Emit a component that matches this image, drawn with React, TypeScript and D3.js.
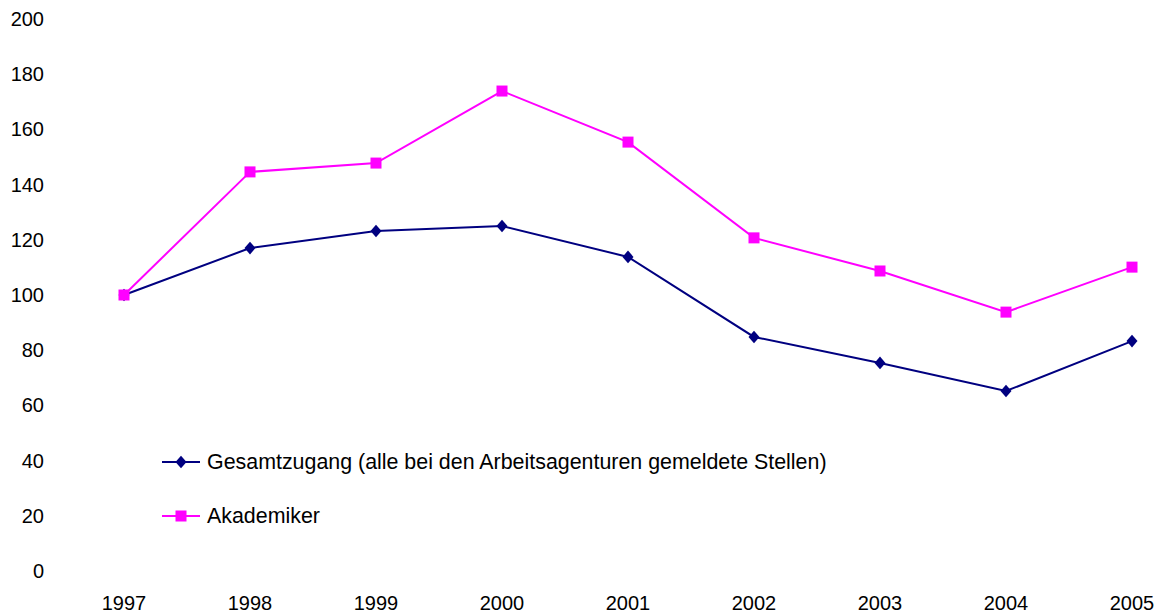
import React from "react";
import * as d3 from "d3";

const years = ["1997", "1998", "1999", "2000", "2001", "2002", "2003", "2004", "2005"];
const gesamt = [100, 117, 123.2, 125, 113.8, 84.8, 75.4, 65.2, 83.3];
const akademiker = [100, 144.6, 147.8, 173.9, 155.4, 120.7, 108.7, 93.8, 110.1];
const yTicks = [0, 20, 40, 60, 80, 100, 120, 140, 160, 180, 200];
const seriesNames = ["Gesamtzugang (alle bei den Arbeitsagenturen gemeldete Stellen)", "Akademiker"];

const W = 1161;
const H = 614;
const FONT = "'Liberation Sans', Arial, sans-serif";

export default function App() {
  const x = d3.scalePoint<string>().domain(years).range([124, 1132]);
  const y = d3.scaleLinear().domain([0, 200]).range([571, 19]);
  const line = d3
    .line<number>()
    .x((_, i) => x(years[i]) as number)
    .y((d) => y(d));

  const navy = "#000080";
  const pink = "#FF00FF";
  const fs = 20;
  const lfs = 21.4;

  const diamond = (cx: number, cy: number, r: number) =>
    `M${cx},${cy - r - 0.8}L${cx + r},${cy}L${cx},${cy + r + 0.8}L${cx - r},${cy}Z`;

  return (
    <svg
      width={W}
      height={H}
      style={{ position: "absolute", left: 0, top: 0, background: "#fff" }}
      fontFamily={FONT}
    >
      {yTicks.map((t) => (
        <text key={t} x={44} y={y(t)} dy="0.35em" textAnchor="end" fontSize={fs} fill="#000">
          {t}
        </text>
      ))}
      {years.map((yr) => (
        <text key={yr} x={x(yr)} y={609.5} textAnchor="middle" fontSize={fs} fill="#000">
          {yr}
        </text>
      ))}

      <path d={line(gesamt) || ""} fill="none" stroke={navy} strokeWidth={2} />
      {gesamt.map((v, i) => (
        <path key={"g" + i} d={diamond(x(years[i]) as number, y(v), 5.5)} fill={navy} />
      ))}
      <path d={line(akademiker) || ""} fill="none" stroke={pink} strokeWidth={2} />
      {akademiker.map((v, i) => (
        <rect key={"a" + i} x={(x(years[i]) as number) - 5.5} y={y(v) - 5.5} width={11} height={11} fill={pink} />
      ))}

      {/* legend */}
      <g>
        <line x1={162} x2={200} y1={462} y2={462} stroke={navy} strokeWidth={2} />
        <path d={diamond(181, 462, 5.5)} fill={navy} />
        <text x={207} y={462} dy="0.35em" fontSize={lfs} fill="#000">
          {seriesNames[0]}
        </text>
        <line x1={162} x2={200} y1={516} y2={516} stroke={pink} strokeWidth={2} />
        <rect x={175.5} y={510.5} width={11} height={11} fill={pink} />
        <text x={207} y={516} dy="0.35em" fontSize={lfs} fill="#000">
          {seriesNames[1]}
        </text>
      </g>
    </svg>
  );
}
